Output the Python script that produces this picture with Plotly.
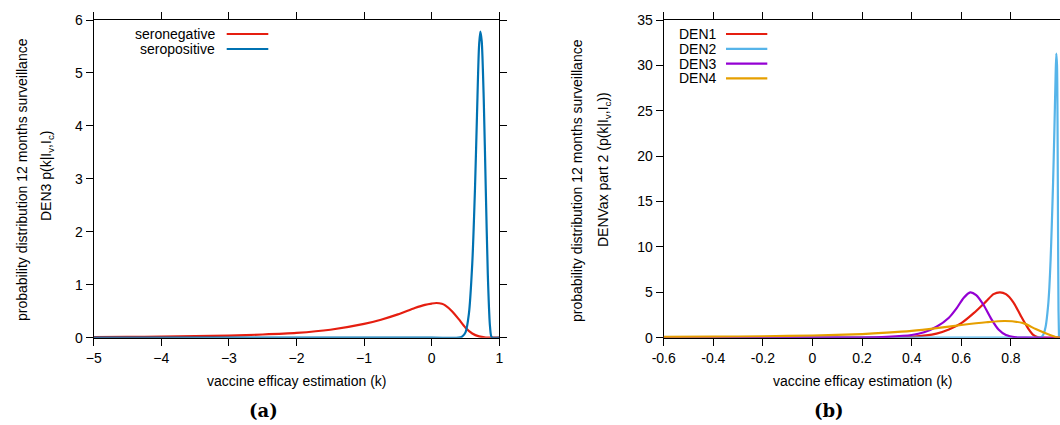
import plotly.graph_objects as go

# ---------------- data ----------------
# Panel (a): DEN3, 12 months surveillance
k_seroneg = [-5.0, -4.5, -4.0, -3.5, -3.0, -2.5, -2.0, -1.5, -1.0, -0.75, -0.5, -0.25,
             -0.1, 0.0, 0.07, 0.15, 0.2, 0.3, 0.4, 0.5, 0.6, 0.7, 0.8, 0.87, 1.0]
p_seroneg = [0.01, 0.015, 0.02, 0.03, 0.04, 0.06, 0.09, 0.15, 0.26, 0.34, 0.44, 0.56,
             0.62, 0.645, 0.655, 0.64, 0.61, 0.50, 0.35, 0.19, 0.08, 0.025, 0.004, 0.0, 0.0]

k_seropos = [-5.0, 0.0, 0.40, 0.45, 0.50, 0.55, 0.60, 0.64, 0.67, 0.70, 0.72, 0.74,
             0.77, 0.80, 0.83, 0.86, 0.88, 0.90, 1.0]
p_seropos = [0.0, 0.0, 0.0, 0.02, 0.10, 0.45, 1.4, 2.8, 4.2, 5.5, 5.78, 5.6,
             4.5, 2.8, 1.2, 0.25, 0.03, 0.0, 0.0]

# Panel (b): DENVax part 2, 12 months surveillance
k_den1 = [-0.6, 0.2, 0.3, 0.4, 0.5, 0.55, 0.6, 0.65, 0.7, 0.73, 0.756, 0.78, 0.81,
          0.84, 0.87, 0.89, 0.91, 0.93, 1.0]
p_den1 = [0.0, 0.0, 0.02, 0.1, 0.45, 0.9, 1.6, 2.7, 4.0, 4.8, 5.0, 4.8, 3.9,
          2.4, 1.0, 0.3, 0.05, 0.0, 0.0]

k_den2 = [-0.6, 0.90, 0.92, 0.93, 0.94, 0.95, 0.955, 0.96, 0.965, 0.97, 0.975, 0.98,
          0.983, 0.986, 0.988, 0.99, 0.992, 0.994]
p_den2 = [0.0, 0.0, 0.05, 0.3, 1.2, 3.5, 5.5, 8.5, 12.5, 17.0, 22.5, 28.5,
          31.3, 30.0, 24.0, 12.0, 3.0, 0.0]

k_den3 = [-0.6, 0.0, 0.2, 0.3, 0.4, 0.45, 0.5, 0.55, 0.58, 0.61, 0.636, 0.66, 0.69,
          0.72, 0.75, 0.78, 0.82, 0.86, 1.0]
p_den3 = [0.0, 0.0, 0.02, 0.1, 0.3, 0.6, 1.2, 2.2, 3.2, 4.4, 5.0, 4.7, 3.6,
          2.1, 0.9, 0.3, 0.05, 0.0, 0.0]

k_den4 = [-0.6, -0.4, -0.2, 0.0, 0.2, 0.3, 0.4, 0.5, 0.6, 0.7, 0.776, 0.85, 0.9,
          0.95, 0.98, 1.0]
p_den4 = [0.08, 0.11, 0.16, 0.24, 0.4, 0.55, 0.75, 1.05, 1.4, 1.7, 1.84, 1.6, 0.95,
          0.37, 0.08, 0.0]

legend_a = ["seronegative", "seropositive"]
legend_b = ["DEN1", "DEN2", "DEN3", "DEN4"]

# ---------------- styling ----------------
RED = "#e51e10"
BLUE = "#0072b2"
SKY = "#56b4e9"
PURPLE = "#9400d3"
ORANGE = "#e69f00"
FONT = "Liberation Sans, Arial, sans-serif"
W, H = 1060, 425


def px(x):
    return x / W


def py(y):
    return (H - y) / H


fig = go.Figure()

line_kw = dict(width=2.2, shape="spline", smoothing=0.7)
fig.add_trace(go.Scatter(x=k_seroneg, y=p_seroneg, mode="lines", name=legend_a[0],
                         line=dict(color=RED, **line_kw), xaxis="x", yaxis="y"))
fig.add_trace(go.Scatter(x=k_seropos, y=p_seropos, mode="lines", name=legend_a[1],
                         line=dict(color=BLUE, **line_kw), xaxis="x", yaxis="y"))

for k, p, c, n in [(k_den1, p_den1, RED, legend_b[0]),
                   (k_den2, p_den2, SKY, legend_b[1]),
                   (k_den3, p_den3, PURPLE, legend_b[2]),
                   (k_den4, p_den4, ORANGE, legend_b[3])]:
    fig.add_trace(go.Scatter(x=k, y=p, mode="lines", name=n,
                             line=dict(color=c, **line_kw), xaxis="x2", yaxis="y2"))

axis_common = dict(showgrid=False, zeroline=False, showline=True, linecolor="black",
                   linewidth=1.3, ticks="outside", ticklen=7, tickwidth=1.1,
                   tickcolor="black", layer="below traces", automargin=False,
                   tickfont=dict(family=FONT, size=14, color="black"))

ydom = [py(337.7), py(20)]

fig.update_layout(
    width=W, height=H, autosize=False,
    margin=dict(l=0, r=0, t=0, b=0, autoexpand=False),
    paper_bgcolor="white", plot_bgcolor="white",
    showlegend=False,
    xaxis=dict(domain=[px(93.7), px(499.3)], range=[-5, 1], dtick=1, mirror="ticks",
               anchor="y", **axis_common),
    yaxis=dict(domain=ydom, range=[0, 6], dtick=1, mirror="ticks", anchor="x",
               **axis_common),
    xaxis2=dict(domain=[px(663.7), 1.0], range=[-0.6, 0.998],
                tickvals=[-0.6, -0.4, -0.2, 0, 0.2, 0.4, 0.6, 0.8],
                ticktext=["-0.6", "-0.4", "-0.2", "0", "0.2", "0.4", "0.6", "0.8"],
                mirror="ticks", anchor="y2", **axis_common),
    yaxis2=dict(domain=ydom, range=[0, 35], dtick=5, mirror=False, anchor="x2",
                **axis_common),
)

ann = []
txt = dict(family=FONT, size=14, color="black")
# axis titles
ann.append(dict(text="vaccine efficay estimation (k)", x=px(296.5), y=py(381),
                xref="paper", yref="paper", showarrow=False, font=txt,
                xanchor="center", yanchor="middle"))
ann.append(dict(text="vaccine efficay estimation (k)", x=px(862.5), y=py(381),
                xref="paper", yref="paper", showarrow=False, font=txt,
                xanchor="center", yanchor="middle"))
# y titles (two separated lines)
ann.append(dict(text="probability distribution 12 months surveillance", x=px(22), y=py(180),
                xref="paper", yref="paper", showarrow=False, font=txt, textangle=-90,
                xanchor="center", yanchor="middle"))
ann.append(dict(text="DEN3 p(k|I<sub>v</sub>,I<sub>c</sub>)", x=px(47), y=py(176),
                xref="paper", yref="paper", showarrow=False, font=txt, textangle=-90,
                xanchor="center", yanchor="middle"))
ann.append(dict(text="probability distribution 12 months surveillance", x=px(577), y=py(181),
                xref="paper", yref="paper", showarrow=False, font=txt, textangle=-90,
                xanchor="center", yanchor="middle"))
ann.append(dict(text="DENVax part 2 (p(k|I<sub>v</sub>,I<sub>c</sub>))", x=px(604), y=py(170),
                xref="paper", yref="paper", showarrow=False, font=txt, textangle=-90,
                xanchor="center", yanchor="middle"))
# panel labels
lab = dict(family="DejaVu Serif, Liberation Serif, serif", size=18, color="black")
ann.append(dict(text="<b>(a)</b>", x=px(263), y=py(410), xref="paper", yref="paper",
                showarrow=False, font=lab, xanchor="center", yanchor="middle"))
ann.append(dict(text="<b>(b)</b>", x=px(829), y=py(410), xref="paper", yref="paper",
                showarrow=False, font=lab, xanchor="center", yanchor="middle"))

shapes = []
# legend (a): text right-aligned, sample line to the right
for i, (name, col) in enumerate(zip(legend_a, [RED, BLUE])):
    yy = 34 + i * 15
    ann.append(dict(text=name, x=px(217), y=py(yy), xref="paper", yref="paper",
                    showarrow=False, font=txt, xanchor="right", yanchor="middle"))
    shapes.append(dict(type="line", xref="paper", yref="paper", x0=px(226.7), x1=px(268.3),
                       y0=py(yy), y1=py(yy), line=dict(color=col, width=2.2)))
# legend (b)
for i, (name, col) in enumerate(zip(legend_b, [RED, SKY, PURPLE, ORANGE])):
    yy = 34 + i * 14.8
    ann.append(dict(text=name, x=px(677), y=py(yy), xref="paper", yref="paper",
                    showarrow=False, font=txt, xanchor="left", yanchor="middle"))
    shapes.append(dict(type="line", xref="paper", yref="paper", x0=px(726), x1=px(767.3),
                       y0=py(yy), y1=py(yy), line=dict(color=col, width=2.2)))

fig.update_layout(annotations=ann, shapes=shapes)
fig.write_html("out.html",
               config={"displayModeBar": False},
               post_script="document.body.style.margin='0';"
                           "document.body.style.overflow='hidden';")
